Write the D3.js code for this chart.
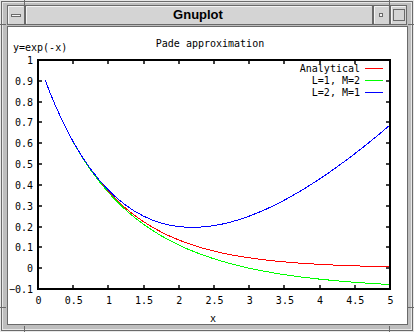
<!DOCTYPE html>
<html><head><meta charset="utf-8">
<script src="https://cdn.jsdelivr.net/npm/d3@7"></script>
<style>html,body{margin:0;padding:0;background:#bebebe;}svg{display:block;}</style>
</head><body>
<script>
// ---- data ----
const xs = [0.1,0.25,0.5,0.75,1.0,1.25,1.5,1.75,2.0,2.25,2.5,2.75,3.0,3.25,3.5,3.75,4.0,4.25,4.5,4.75,5.0];
const analytical = [0.9048,0.7788,0.6065,0.4724,0.3679,0.2865,0.2231,0.1738,0.1353,0.1054,0.0821,0.0639,0.0498,0.0388,0.0302,0.0235,0.0183,0.0143,0.0111,0.0087,0.0067];
const l1m2 = [0.9048,0.7788,0.6061,0.4706,0.3636,0.2786,0.2105,0.1556,0.1111,0.0748,0.0449,0.0204,0.0,-0.0169,-0.0310,-0.0428,-0.0526,-0.0609,-0.0678,-0.0736,-0.0784];
const l2m1 = [0.9048,0.7788,0.6071,0.4750,0.3750,0.3015,0.2500,0.2171,0.2000,0.1964,0.2045,0.2228,0.2500,0.2850,0.3269,0.3750,0.4286,0.4871,0.5500,0.6169,0.6875];
const seriesNames = ["Analytical","L=1, M=2","L=2, M=1"];
const seriesColors = ["#ff0000","#00ff00","#0000ff"];
const xTicks = [0,0.5,1,1.5,2,2.5,3,3.5,4,4.5,5];
const yTicks = [-0.1,0,0.1,0.2,0.3,0.4,0.5,0.6,0.7,0.8,0.9,1];
const titleText = "Pade approximation";
const xLabel = "x";
const yLabel = "y=exp(-x)";
const windowTitle = "Gnuplot";

(function(){
const W = 414, H = 332;
const svg = d3.select("body").append("svg").attr("width", W).attr("height", H);

// ---- window chrome ----
const dark = "#6a6a6a", light = "#e8e8e8", mid = "#bebebe";
svg.append("rect").attr("x",0).attr("y",0).attr("width",W).attr("height",H).attr("fill",mid);
svg.append("rect").attr("x",0.5).attr("y",0.5).attr("width",W-1).attr("height",H-1).attr("fill","none").attr("stroke",light);
svg.append("rect").attr("x",1.5).attr("y",1.5).attr("width",W-3).attr("height",H-3).attr("fill","none").attr("stroke",dark);
svg.append("rect").attr("x",2.5).attr("y",2.5).attr("width",W-5).attr("height",H-5).attr("fill","none").attr("stroke",light);
[[24.5,0,24.5,6],[389.5,0,389.5,6],[0,24.5,6,24.5],[408,24.5,414,24.5],[0,307.5,6,307.5],[408,307.5,414,307.5],[24.5,326,24.5,332],[389.5,326,389.5,332]]
  .forEach(l=>svg.append("line").attr("x1",l[0]).attr("y1",l[1]).attr("x2",l[2]).attr("y2",l[3]).attr("stroke",dark));
function bevelBox(x,y,w,h,fill){
  svg.append("rect").attr("x",x+0.5).attr("y",y+0.5).attr("width",w-1).attr("height",h-1).attr("fill",fill).attr("stroke",dark);
  svg.append("path").attr("d",`M${x+1.5},${y+h-1.5}V${y+1.5}H${x+w-1.5}`).attr("fill","none").attr("stroke","#f4f4f4");
}
bevelBox(7,5,18,20,"#d4d4d4");
bevelBox(25,5,348,20,"#d4d4d4");
bevelBox(373,5,17,20,"#d4d4d4");
bevelBox(390,5,17,20,"#d4d4d4");
svg.append("rect").attr("x",11.5).attr("y",14.5).attr("width",9).attr("height",2).attr("fill","#f4f4f4").attr("stroke",dark);
svg.append("rect").attr("x",379.5).attr("y",13.5).attr("width",3).attr("height",3).attr("fill","#f4f4f4").attr("stroke",dark);
svg.append("rect").attr("x",393.5).attr("y",9.5).attr("width",11).attr("height",11).attr("fill","#d4d4d4").attr("stroke",dark);
svg.append("text").attr("x",198).attr("y",19).attr("text-anchor","middle")
  .attr("font-family","'Liberation Sans', Arial, sans-serif").attr("font-weight","bold").attr("font-size",13)
  .attr("fill","#000").text(windowTitle);
svg.append("rect").attr("x",7.5).attr("y",26.5).attr("width",400).attr("height",298).attr("fill","#fff").attr("stroke",dark);

// ---- chart ----
const pL = 38, pR = 390, pT = 60, pB = 289;
const x = d3.scaleLinear().domain([0,5]).range([pL,pR]);
const y = d3.scaleLinear().domain([-0.1,1]).range([pB,pT]);
const font = "'DejaVu Sans Mono', monospace";
const g = svg.append("g");

const tl = 3;
const tickG = g.append("g").attr("stroke","#000").attr("stroke-width",1.5);
xTicks.forEach(t=>{
  const px = Math.round(x(t));
  tickG.append("line").attr("x1",px).attr("x2",px).attr("y1",pB).attr("y2",pB-tl-1);
  tickG.append("line").attr("x1",px).attr("x2",px).attr("y1",pT).attr("y2",pT+tl+1);
});
yTicks.forEach(t=>{
  const py = Math.round(y(t));
  tickG.append("line").attr("y1",py).attr("y2",py).attr("x1",pL).attr("x2",pL+tl+1);
  tickG.append("line").attr("y1",py).attr("y2",py).attr("x1",pR).attr("x2",pR-tl-1);
});

const xAxis = d3.axisBottom(x).tickValues(xTicks).tickSize(0).tickPadding(0).tickFormat(d3.format("~g"));
const xa = g.append("g").attr("transform",`translate(0,${pB})`).call(xAxis);
xa.select(".domain").remove();
xa.selectAll("text").attr("y",15).attr("dy",0).attr("font-family",font).attr("font-size",10).attr("fill","#000");
const yAxis = d3.axisLeft(y).tickValues(yTicks).tickSize(0).tickPadding(0).tickFormat(d3.format("~g"));
const ya = g.append("g").attr("transform",`translate(${pL-5},0)`).call(yAxis);
ya.select(".domain").remove();
ya.selectAll("text").attr("x",0).attr("dy","0.35em").attr("font-family",font).attr("font-size",10).attr("fill","#000");

const allSeries = [analytical, l1m2, l2m1];
const line = d3.line().x((d,i)=>x(xs[i])).y(d=>y(d)).curve(d3.curveCatmullRom);
svg.append("clipPath").attr("id","clip").append("rect").attr("x",pL).attr("y",pT).attr("width",pR-pL).attr("height",pB-pT);
allSeries.forEach((s,k)=>{
  g.append("path").datum(s).attr("d",line).attr("fill","none").attr("stroke",seriesColors[k])
    .attr("stroke-width",1).attr("shape-rendering","crispEdges").attr("clip-path","url(#clip)");
});

g.append("rect").attr("x",pL).attr("y",pT).attr("width",pR-pL).attr("height",pB-pT)
  .attr("fill","none").attr("stroke","#000").attr("stroke-width",2);

const legY = [68.5,80.5,92.5];
seriesNames.forEach((n,k)=>{
  g.append("text").attr("x",360).attr("y",legY[k]).attr("dy","0.35em").attr("text-anchor","end")
    .attr("font-family",font).attr("font-size",10).attr("fill","#000").text(n);
  g.append("line").attr("x1",365).attr("x2",383).attr("y1",legY[k]).attr("y2",legY[k]).attr("stroke",seriesColors[k]).attr("stroke-width",1);
});

g.append("text").attr("x",210).attr("y",47).attr("text-anchor","middle").attr("font-family",font).attr("font-size",10).attr("fill","#000").text(titleText);
g.append("text").attr("x",13).attr("y",51).attr("font-family",font).attr("font-size",10).attr("fill","#000").text(yLabel);
g.append("text").attr("x",213).attr("y",322).attr("text-anchor","middle").attr("font-family",font).attr("font-size",10).attr("fill","#000").text(xLabel);
})();
</script>
</body></html>
